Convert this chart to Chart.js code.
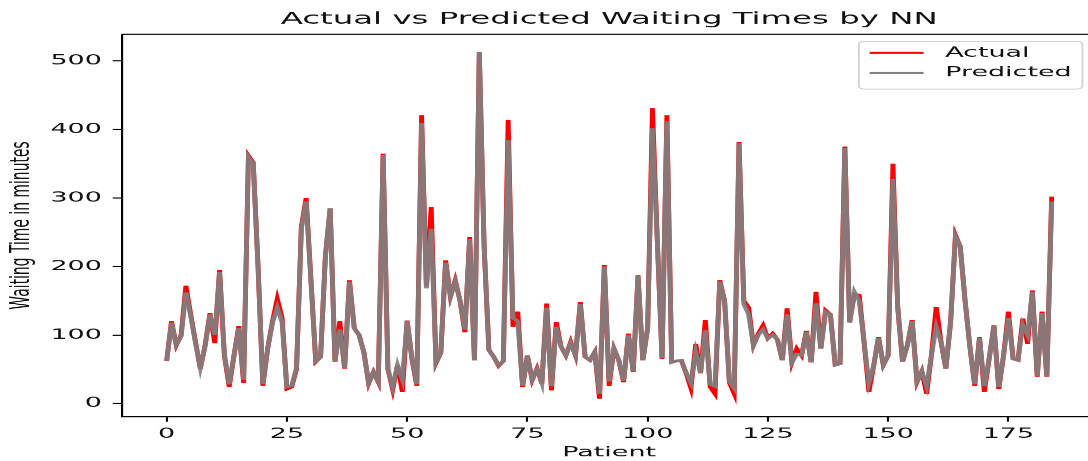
<!DOCTYPE html>
<html>
<head>
<meta charset="utf-8">
<script src="https://cdn.jsdelivr.net/npm/chart.js@4.4.1/dist/chart.umd.min.js"></script>
<style>
  html, body { margin: 0; padding: 0; background: #fff; overflow: hidden; width: 1088px; height: 461px; }
  /* figure is laid out narrow and stretched horizontally */
  #wrap { position: absolute; left: 0; top: 0; width: 567px; height: 461px;
          transform: scaleX(1.94); transform-origin: 0 0; }
</style>
</head>
<body>
<div id="wrap"><canvas id="c"></canvas></div>
<script>
// Waiting time (minutes) per patient: observed vs. neural-network prediction
const actual = [
  62,120,85,100,172,130,90,51,85,132,
  88,195,70,24,70,113,30,362,352,200,
  26,80,120,153,125,21,24,50,258,300,
  180,61,68,215,285,61,120,51,180,110,
  100,75,29,46,31,365,50,20,56,17,
  121,65,26,421,171,287,59,74,209,156,
  180,150,104,243,63,513,230,78,68,55,
  62,414,112,134,24,70,34,51,29,146,
  19,119,83,70,90,70,148,68,63,75,
  7,202,26,80,63,31,102,46,187,63,
  110,431,240,65,421,60,62,63,44,22,
  87,44,122,24,14,180,150,30,14,382,
  150,140,85,102,114,95,102,93,63,139,
  60,80,70,106,60,163,80,136,130,56,
  58,375,119,160,158,90,17,55,97,56,
  70,350,140,61,85,122,31,47,14,70,
  141,90,51,120,246,229,150,83,26,97,
  17,65,114,21,70,134,65,63,124,87,
  165,39,134,39,302
];
const predicted = [
  62,118,86,98,162,128,88,52,84,130,
  100,192,72,28,70,110,34,360,350,200,
  28,80,118,140,118,24,26,52,255,295,
  180,62,68,215,285,62,108,52,178,110,
  100,75,30,46,32,363,50,24,56,35,
  120,65,28,410,168,255,60,74,206,156,
  178,150,108,240,63,513,230,78,68,56,
  62,385,125,120,26,70,35,50,30,140,
  25,112,83,70,88,70,145,68,63,75,
  14,200,32,80,63,33,100,47,186,63,
  110,402,240,66,412,60,62,63,45,30,
  75,45,107,28,25,178,150,32,22,380,
  145,130,85,100,108,95,100,93,63,130,
  60,72,70,104,60,146,80,134,130,56,
  58,373,118,163,150,90,30,55,96,56,
  70,328,140,61,85,120,32,47,25,70,
  112,90,51,120,244,229,150,83,28,96,
  25,65,113,24,70,125,65,63,115,100,
  163,40,132,40,295
];
const patients = actual.map((_, i) => i);
const xTickValues = [0, 25, 50, 75, 100, 125, 150, 175];
const yTickValues = [0, 100, 200, 300, 400, 500];

const FONT = "'DejaVu Sans', 'Liberation Sans', sans-serif";
const TEXT = '#111111';
const LINE_W = 2.5;

const toPoints = arr => patients.map((p, i) => ({ x: p, y: arr[i] }));

// top/right frame lines of the axes box
const frame = {
  id: 'frame',
  afterDatasetsDraw(chart) {
    const { ctx, chartArea: a } = chart;
    ctx.save();
    ctx.strokeStyle = '#000';
    ctx.lineWidth = 1.1;
    ctx.beginPath();
    ctx.moveTo(a.left, a.top);
    ctx.lineTo(a.right, a.top);
    ctx.lineTo(a.right, a.bottom);
    ctx.stroke();
    ctx.restore();
  }
};

// boxed legend in the upper-right corner of the plot
const boxLegend = {
  id: 'boxLegend',
  afterDraw(chart) {
    const { ctx, chartArea: a } = chart;
    const fs = 13.9;
    const pad = 0.4 * fs, handle = 2 * fs, gap = 0.8 * fs, rowH = 20;
    ctx.save();
    ctx.font = fs + 'px ' + FONT;
    const sets = chart.data.datasets;
    const tw = Math.max(...sets.map(d => ctx.measureText(d.label).width));
    const w = pad + handle + gap + tw + pad;
    const h = 47.8;
    const right = a.right - 0.5 * fs, top = a.top + 0.5 * fs;
    const left = right - w;
    ctx.beginPath();
    ctx.roundRect(left, top, w, h, 3);
    ctx.fillStyle = 'rgba(255,255,255,0.85)';
    ctx.fill();
    ctx.strokeStyle = '#d3d3d3';
    ctx.lineWidth = 1;
    ctx.stroke();
    sets.forEach((d, i) => {
      const y = top + 11.6 + i * rowH;
      ctx.beginPath();
      ctx.moveTo(left + pad, y);
      ctx.lineTo(left + pad + handle, y);
      ctx.strokeStyle = d.legendColor;
      ctx.lineWidth = 2.08;
      ctx.stroke();
      ctx.fillStyle = TEXT;
      ctx.textBaseline = 'middle';
      ctx.textAlign = 'left';
      ctx.fillText(d.label, left + pad + handle + gap, y);
    });
    ctx.restore();
  }
};

new Chart(document.getElementById('c'), {
  type: 'line',
  data: {
    datasets: [
      {
        label: 'Actual',
        data: toPoints(actual),
        borderColor: '#ff0000',
        legendColor: '#ff0000',
        borderWidth: LINE_W,
        pointRadius: 0,
        tension: 0,
        order: 2
      },
      {
        label: 'Predicted',
        data: toPoints(predicted),
        borderColor: 'rgba(128,128,128,0.92)',
        legendColor: '#808080',
        borderWidth: LINE_W,
        pointRadius: 0,
        tension: 0,
        order: 1
      }
    ]
  },
  options: {
    responsive: true,
    maintainAspectRatio: false,
    animation: false,
    devicePixelRatio: 1.94,
    layout: { padding: { left: 0, right: 2.1, top: 0, bottom: 0 } },
    plugins: {
      legend: { display: false },
      tooltip: { enabled: false },
      title: {
        display: true,
        text: 'Actual vs Predicted Waiting Times by NN',
        fullSize: false,
        color: TEXT,
        font: { family: FONT, size: 16.7, weight: 'normal', lineHeight: 1.2 },
        padding: { top: 9.6, bottom: 4.7 }
      }
    },
    scales: {
      x: {
        type: 'linear',
        min: -9.2,
        max: 193.2,
        afterBuildTicks: s => { s.ticks = xTickValues.map(v => ({ value: v })); },
        afterFit: s => { s.height = 44.5; },
        border: { display: true, color: '#000', width: 1.1 },
        grid: { drawOnChartArea: false, drawTicks: true, tickLength: 5, tickColor: '#000', tickWidth: 1.1 },
        ticks: { color: TEXT, font: { family: FONT, size: 13.9 }, padding: 4, maxRotation: 0 },
        title: { display: true, text: 'Patient', color: TEXT,
                 font: { family: FONT, size: 13.9, lineHeight: 1.2 }, padding: { top: 0, bottom: 0 } }
      },
      y: {
        type: 'linear',
        min: -19.3,
        max: 539,
        afterBuildTicks: s => { s.ticks = yTickValues.map(v => ({ value: v })); },
        afterFit: s => { s.width = 63.1; },
        border: { display: true, color: '#000', width: 1.1 },
        grid: { drawOnChartArea: false, drawTicks: true, tickLength: 5, tickColor: '#000', tickWidth: 1.1 },
        ticks: { color: TEXT, font: { family: FONT, size: 13.9 }, padding: 5.6 },
        title: { display: true, text: 'Waiting Time in minutes', color: TEXT,
                 font: { family: FONT, size: 13.9, lineHeight: 1.2 }, padding: { top: 3.2, bottom: 0 } }
      }
    }
  },
  plugins: [frame, boxLegend]
});
</script>
</body>
</html>
